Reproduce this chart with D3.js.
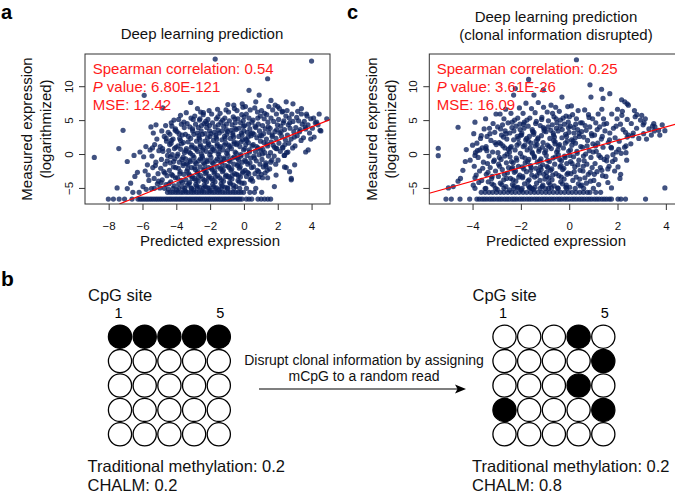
<!DOCTYPE html>
<html><head><meta charset="utf-8">
<script src="https://cdn.jsdelivr.net/npm/d3@7"></script>
<style>body{margin:0;background:#fff}svg{display:block;font-family:"Liberation Sans",Arial,Helvetica,sans-serif}</style>
</head><body><svg id="fig" width="675" height="494"></svg>
<script>
// ---------------- DATA ----------------
const yTicks = [-5, 0, 5, 10];
const xTicksA = [-8, -6, -4, -2, 0, 2, 4];
const xTicksC = [-4, -2, 0, 2, 4];
const floorLevels = [-6.644, -5.644, -5.059];

const statsA = ["Spearman correlation: 0.54", "6.80E-121", "12.42"];
const statsC = ["Spearman correlation: 0.25", "3.61E-26", "16.09"];

// panel a: edge / outlying points
const outerA = [[-8.85,-0.5],[-7.4,0.8],[-7.15,3.5],[-6.9,-1.1],[-6.5,-0.2],[-6.15,0.3],[-5.8,1.1],[-6.9,-5.1],[-6.7,-4.3],[-6.45,-3.3],[-6.3,-2.7],[-5.9,8.66],[-4.8,6.8],[-4.3,4.6],[-4.05,3.7],[-3.55,4.7],[-3.15,7.6],[-2.75,6.7],[-2.6,5.2],[-3.0,5.1],[-3.75,5.7],[-5.5,4.0],[-5.2,4.3],[-2.2,4.5],[-2.4,6.1],[-1.7,14.0],[4.0,13.7],[1.4,11.1],[0.3,9.4],[-0.95,7.3],[-0.6,7.2],[-0.1,7.4],[0.7,7.7],[0.9,8.7],[1.6,7.9],[2.5,7.7],[2.9,7.4],[3.4,6.7],[2.0,7.0],[2.3,6.3],[3.7,5.9],[4.45,5.9],[4.3,4.7],[4.9,5.2],[4.5,3.5],[4.15,2.5],[3.8,0.6],[3.0,-1.6],[2.7,-2.6],[2.4,-1.9],[1.9,-3.1],[1.25,-2.8],[1.8,-4.8],[2.8,-3.8],[4.55,3.4],[3.95,2.2],[3.65,0.3],[2.8,-3.6],[2.5,-2.0],[2.4,-0.2],[2.6,0.3],[2.3,0.9],[1.9,0.8],[1.1,-3.5],[1.4,-3.5],[1.3,-1.8],[-7.5,-5.0]];

// panel a: main cloud
const coreA = [
[-5.97,-4.8],[-5.62,-3.9],[-5.84,-2.5],[-5.71,-1.6],[-5.93,-0.4],[-5.55,0.6],[-5.78,-5.2],[-5.66,-3.1],
[-5.47,-5.1],[-5.12,-4.4],[-5.31,-3.6],[-5.08,-2.9],[-5.39,-2.0],[-5.21,-1.2],[-5.44,-0.3],[-5.03,0.5],[-5.28,1.4],[-5.15,2.2],[-5.36,3.1],[-5.05,-4.0],[-5.24,-1.7],[-5.41,0.9],
[-4.97,-5.0],[-4.61,-4.5],[-4.83,-3.8],[-4.55,-3.2],[-4.74,-2.6],[-4.92,-2.1],[-4.66,-1.5],[-4.88,-0.8],[-4.52,-0.2],[-4.79,0.4],[-4.95,1.1],[-4.58,1.9],[-4.71,2.6],[-4.86,3.4],[-4.63,4.2],[-4.9,-4.2],[-4.68,-2.8],[-4.54,-1.0],[-4.81,0.8],[-4.6,2.3],
[-4.47,-5.2],[-4.12,-4.7],[-4.33,-4.1],[-4.05,-3.5],[-4.28,-3.0],[-4.41,-2.4],[-4.17,-1.9],[-4.36,-1.3],[-4.09,-0.7],[-4.24,-0.1],[-4.45,0.5],[-4.02,1.0],[-4.31,1.6],[-4.19,2.2],[-4.38,2.9],[-4.07,3.5],[-4.26,4.1],[-4.14,5.0],[-4.43,-4.4],[-4.21,-3.2],[-4.04,-2.0],[-4.35,-0.4],[-4.11,0.8],[-4.29,2.0],[-4.48,3.2],[-4.16,-1.1],[-4.39,1.4],
[-3.98,-5.3],[-3.62,-4.9],[-3.85,-4.4],[-3.71,-3.9],[-3.93,-3.5],[-3.55,-3.0],[-3.77,-2.6],[-3.88,-2.1],[-3.6,-1.7],[-3.82,-1.2],[-3.67,-0.8],[-3.95,-0.3],[-3.52,0.2],[-3.74,0.7],[-3.9,1.2],[-3.58,1.7],[-3.8,2.3],[-3.65,2.8],[-3.96,3.3],[-3.53,3.9],[-3.7,4.4],[-3.86,5.1],[-3.63,-4.2],[-3.79,-2.9],[-3.57,-1.4],[-3.91,0.0],[-3.69,1.5],[-3.84,3.0],[-3.6,-0.5],[-3.75,2.0],
[-3.48,-5.4],[-3.12,-5.0],[-3.35,-4.6],[-3.21,-4.2],[-3.43,-3.8],[-3.05,-3.3],[-3.27,-2.9],[-3.38,-2.5],[-3.1,-2.0],[-3.32,-1.6],[-3.17,-1.1],[-3.45,-0.7],[-3.02,-0.2],[-3.24,0.3],[-3.4,0.8],[-3.08,1.3],[-3.3,1.8],[-3.15,2.3],[-3.46,2.9],[-3.03,3.4],[-3.2,4.0],[-3.36,4.5],[-3.13,5.3],[-3.41,6.1],[-3.26,-4.4],[-3.07,-3.6],[-3.33,-2.2],[-3.19,-0.9],[-3.44,0.5],[-3.11,1.0],[-3.29,2.6],[-3.04,3.7],[-3.39,-1.4],[-3.22,-3.1],[-3.16,0.1],
[-2.98,-5.3],[-2.62,-4.9],[-2.85,-4.5],[-2.71,-4.0],[-2.93,-3.6],[-2.55,-3.2],[-2.77,-2.8],[-2.88,-2.3],[-2.6,-1.9],[-2.82,-1.4],[-2.67,-1.0],[-2.95,-0.5],[-2.52,0.0],[-2.74,0.4],[-2.9,0.9],[-2.58,1.4],[-2.8,1.9],[-2.65,2.4],[-2.96,2.9],[-2.53,3.4],[-2.7,3.9],[-2.86,4.4],[-2.63,5.0],[-2.91,5.6],[-2.56,6.2],[-2.79,-4.7],[-2.68,-3.4],[-2.92,-2.0],[-2.57,-0.7],[-2.83,0.7],[-2.61,2.1],[-2.76,3.1],[-2.51,4.2],[-2.89,-1.2],[-2.72,-2.6],[-2.59,1.1],[-2.84,-3.9],[-2.66,2.7],
[-2.48,-5.4],[-2.12,-5.0],[-2.35,-4.6],[-2.21,-4.1],[-2.43,-3.7],[-2.05,-3.3],[-2.27,-2.9],[-2.38,-2.4],[-2.1,-2.0],[-2.32,-1.5],[-2.17,-1.1],[-2.45,-0.6],[-2.02,-0.1],[-2.24,0.4],[-2.4,0.9],[-2.08,1.4],[-2.3,1.9],[-2.15,2.4],[-2.46,2.9],[-2.03,3.4],[-2.2,3.9],[-2.36,4.5],[-2.13,5.1],[-2.41,5.8],[-2.06,6.4],[-2.28,-4.8],[-2.09,-3.5],[-2.34,-2.2],[-2.19,-0.9],[-2.44,0.6],[-2.11,1.7],[-2.29,3.0],[-2.04,4.2],[-2.39,-1.3],[-2.22,-2.7],[-2.16,1.1],[-2.33,-3.9],[-2.01,2.6],[-2.47,-0.3],[-2.26,4.8],
[-1.98,-5.4],[-1.62,-5.0],[-1.85,-4.5],[-1.71,-4.1],[-1.93,-3.6],[-1.55,-3.2],[-1.77,-2.8],[-1.88,-2.3],[-1.6,-1.9],[-1.82,-1.4],[-1.67,-1.0],[-1.95,-0.5],[-1.52,0.0],[-1.74,0.5],[-1.9,1.0],[-1.58,1.5],[-1.8,2.0],[-1.65,2.5],[-1.96,3.0],[-1.53,3.5],[-1.7,4.0],[-1.86,4.6],[-1.63,5.2],[-1.91,5.9],[-1.56,6.6],[-1.79,-4.8],[-1.68,-3.4],[-1.92,-2.1],[-1.57,-0.7],[-1.83,0.7],[-1.61,2.2],[-1.76,3.2],[-1.51,4.3],[-1.89,-1.2],[-1.72,-2.6],[-1.59,1.2],[-1.84,-3.9],[-1.66,2.8],[-1.97,0.3],[-1.54,5.5],
[-1.48,-5.3],[-1.12,-4.9],[-1.35,-4.4],[-1.21,-4.0],[-1.43,-3.5],[-1.05,-3.1],[-1.27,-2.6],[-1.38,-2.2],[-1.1,-1.7],[-1.32,-1.3],[-1.17,-0.8],[-1.45,-0.4],[-1.02,0.1],[-1.24,0.6],[-1.4,1.1],[-1.08,1.6],[-1.3,2.1],[-1.15,2.6],[-1.46,3.1],[-1.03,3.6],[-1.2,4.1],[-1.36,4.7],[-1.13,5.3],[-1.41,6.0],[-1.06,6.5],[-1.28,-4.7],[-1.09,-3.3],[-1.34,-2.0],[-1.19,-0.6],[-1.44,0.9],[-1.11,2.3],[-1.29,3.4],[-1.04,4.4],[-1.39,-1.1],[-1.22,-2.4],[-1.16,1.3],[-1.33,-3.8],[-1.01,2.9],[-1.47,0.3],[-1.26,5.0],
[-0.98,-5.0],[-0.62,-4.6],[-0.85,-4.2],[-0.71,-3.7],[-0.93,-3.3],[-0.55,-2.9],[-0.77,-2.4],[-0.88,-2.0],[-0.6,-1.5],[-0.82,-1.1],[-0.67,-0.6],[-0.95,-0.2],[-0.52,0.3],[-0.74,0.8],[-0.9,1.3],[-0.58,1.8],[-0.8,2.3],[-0.65,2.8],[-0.96,3.3],[-0.53,3.8],[-0.7,4.3],[-0.86,4.9],[-0.63,5.5],[-0.91,6.2],[-0.56,6.7],[-0.79,-4.4],[-0.68,-3.1],[-0.92,-1.8],[-0.57,-0.4],[-0.83,1.1],[-0.61,2.5],[-0.76,3.5],[-0.51,4.6],[-0.89,-0.9],[-0.72,-2.2],[-0.59,1.5],[-0.84,-3.5],[-0.66,3.1],[-0.97,0.5],[-0.54,5.2],
[-0.48,-4.8],[-0.12,-4.3],[-0.35,-3.9],[-0.21,-3.4],[-0.43,-3.0],[-0.05,-2.6],[-0.27,-2.1],[-0.38,-1.7],[-0.1,-1.2],[-0.32,-0.8],[-0.17,-0.3],[-0.45,0.1],[-0.02,0.6],[-0.24,1.1],[-0.4,1.6],[-0.08,2.1],[-0.3,2.6],[-0.15,3.1],[-0.46,3.6],[-0.03,4.1],[-0.2,4.6],[-0.36,5.2],[-0.13,5.8],[-0.41,6.4],[-0.06,6.9],[-0.28,-4.1],[-0.09,-2.8],[-0.34,-1.5],[-0.19,-0.1],[-0.44,1.4],[-0.11,2.8],[-0.29,3.8],[-0.04,4.9],[-0.39,-0.6],[-0.22,-1.9],[-0.16,1.8],[-0.33,-3.2],[-0.01,3.4],
[0.02,-4.3],[0.38,-3.8],[0.15,-3.3],[0.29,-2.9],[0.07,-2.4],[0.45,-2.0],[0.23,-1.5],[0.12,-1.1],[0.4,-0.6],[0.18,-0.2],[0.33,0.3],[0.05,0.8],[0.48,1.2],[0.26,1.7],[0.1,2.2],[0.42,2.7],[0.2,3.2],[0.35,3.7],[0.04,4.2],[0.47,4.7],[0.3,5.3],[0.14,5.9],[0.37,6.5],[0.09,7.0],[0.44,-3.6],[0.21,-2.7],[0.06,-0.9],[0.32,0.6],[0.16,2.0],[0.41,3.0],[0.27,4.4],[0.01,5.5],[0.36,-1.3],[0.11,1.4],[0.25,2.5],
[0.52,-4.0],[0.88,-3.4],[0.65,-2.9],[0.79,-2.4],[0.57,-1.9],[0.95,-1.5],[0.73,-1.0],[0.62,-0.6],[0.9,-0.1],[0.68,0.4],[0.83,0.9],[0.55,1.4],[0.98,1.9],[0.76,2.4],[0.6,2.9],[0.92,3.4],[0.7,3.9],[0.85,4.4],[0.54,5.0],[0.97,5.6],[0.8,6.2],[0.64,6.8],[0.87,-2.6],[0.59,-0.3],[0.74,1.1],[0.94,2.7],[0.66,4.1],[0.82,5.3],[0.51,3.1],[0.99,0.6],
[1.02,-3.0],[1.38,-2.4],[1.15,-1.9],[1.29,-1.3],[1.07,-0.8],[1.45,-0.3],[1.23,0.2],[1.12,0.7],[1.4,1.2],[1.18,1.7],[1.33,2.2],[1.05,2.7],[1.48,3.2],[1.26,3.7],[1.1,4.2],[1.42,4.7],[1.2,5.2],[1.35,5.8],[1.04,6.4],[1.47,7.0],[1.3,-1.6],[1.09,0.0],[1.37,1.5],[1.16,3.0],[1.44,4.0],[1.22,6.0],
[1.52,-2.2],[1.88,-1.5],[1.65,-0.9],[1.79,-0.3],[1.57,0.2],[1.95,0.8],[1.73,1.3],[1.62,1.8],[1.9,2.3],[1.68,2.8],[1.83,3.3],[1.55,3.8],[1.98,4.3],[1.76,4.8],[1.6,5.3],[1.92,5.9],[1.7,6.5],[1.85,7.2],[1.58,-1.2],[1.81,1.0],[1.67,2.6],[1.94,3.6],
[2.02,-0.9],[2.38,-0.2],[2.15,0.4],[2.29,1.0],[2.07,1.6],[2.45,2.1],[2.23,2.6],[2.12,3.1],[2.4,3.6],[2.18,4.1],[2.33,4.6],[2.05,5.1],[2.48,5.6],[2.26,6.2],[2.1,6.7],[2.42,1.4],[2.2,3.3],[2.36,4.9],
[2.52,0.2],[2.88,0.9],[2.65,1.6],[2.79,2.2],[2.57,2.8],[2.95,3.3],[2.73,3.8],[2.62,4.3],[2.9,4.8],[2.68,5.3],[2.83,5.9],[2.55,6.4],[2.98,2.5],[2.71,4.6],
[3.02,1.2],[3.38,2.0],[3.15,2.7],[3.29,3.3],[3.07,3.9],[3.45,4.4],[3.23,4.9],[3.12,5.4],[3.4,5.9],[3.18,6.3],[3.33,3.6],
[3.52,2.4],[3.88,3.1],[3.65,3.7],[3.79,4.3],[3.57,4.8],[3.95,5.2],[3.73,5.6],[3.62,4.0],
[4.05,3.8],[4.22,4.6],[4.38,4.3],[4.12,5.3]];

// panel a: x positions of the points on the lowest measured levels
const floorAx = [-8.02,-7.72,-7.38,-7.06,-6.62,-6.27,-6.15,-6.04,-5.92,-5.8,-5.69,-5.57,-5.46,-5.34,-5.22,-5.11,-4.99,-4.88,-4.76,-4.64,-4.53,-4.41,-4.3,-4.18,-4.06,-3.95,-3.83,-3.72,-3.6,-3.48,-3.37,-3.25,-3.14,-3.02,-2.9,-2.79,-2.67,-2.56,-2.44,-2.32,-2.21,-2.09,-1.98,-1.86,-1.74,-1.63,-1.51,-1.4,-1.28,-1.16,-1.05,-0.93,-0.82,-0.7,-0.58,-0.47,-0.35,-0.24,-0.12,0.14,0.3,0.46,0.83,1.02,1.22,1.41,1.58];
const band2Ax = [-6.57,-6.2,-4.52,-4.36,-4.21,-4.05,-3.9,-3.74,-3.6,-3.43,-3.28,-3.12,-2.97,-2.81,-2.66,-2.5,-2.35,-2.19,-2.04,-1.88,-1.73,-1.57,-1.42,-1.26,-1.11,-0.95,-0.8,-0.64,-0.49,-0.33,-0.18,-0.02,0.35,0.62,1.05];
const band3Ax = [-5.3,-4.7,-4.2,-3.85,-3.5,-3.1,-2.75,-2.4,-2.05,-1.7,-1.35,-0.95,-0.6,-0.25,0.15,0.7];

// panel c: edge / outlying points
const outerC = [[-5.42,0.85],[-5.42,-0.25],[-4.6,3.95],[0.3,13.9],[-1.68,11.0],[0.86,10.2],[1.34,9.55],[1.68,8.9],[-1.07,9.45],[-2.23,9.65],[-2.3,8.7],[-1.46,8.7],[0.9,8.4],[1.4,8.2],[-0.3,8.4],[-0.75,7.2],[3.5,4.5],[3.1,4.6],[2.3,7.7],[2.45,7.2],[2.7,6.4],[3.0,5.7],[2.2,6.3],[-5.0,-5.0],[-4.8,-4.8],[-4.6,-4.0],[-4.5,-3.6],[-4.4,-2.4],[-4.3,-1.1],[-4.26,0.65],[-4.0,1.3],[-3.9,-0.2],[-4.1,-0.9],[-3.7,0.6],[-3.9,4.7],[3.96,-5.0],[3.96,3.45],[2.4,2.5],[2.35,1.2],[2.35,0.2],[1.9,-0.8],[2.13,-3.0],[2.1,-3.6],[1.75,-5.0],[1.6,-4.2],[1.35,-2.4],[1.75,0.9],[1.55,-1.0],[2.17,8.0],[2.4,7.4],[2.0,6.6],[2.8,5.8],[3.15,5.2],[3.06,4.3],[3.4,2.8],[3.75,2.8],[3.55,4.0]];

// panel c: main cloud
const coreC = [
[-3.97,-4.6],[-3.62,-3.9],[-3.85,-3.1],[-3.71,-2.5],[-3.93,-1.8],[-3.55,-1.2],[-3.77,-0.5],[-3.88,0.2],[-3.6,0.9],[-3.82,1.6],[-3.67,2.3],[-3.95,3.0],[-3.52,3.7],[-3.74,-4.2],[-3.58,-2.1],[-3.8,0.5],[-3.64,2.7],[-3.9,-3.5],
[-3.48,-5.1],[-3.12,-4.6],[-3.35,-4.1],[-3.21,-3.6],[-3.43,-3.0],[-3.05,-2.5],[-3.27,-2.0],[-3.38,-1.4],[-3.1,-0.9],[-3.32,-0.3],[-3.17,0.3],[-3.45,0.8],[-3.02,1.4],[-3.24,2.0],[-3.4,2.6],[-3.08,3.2],[-3.3,3.8],[-3.15,4.5],[-3.46,5.2],[-3.03,5.9],[-3.2,-4.4],[-3.36,-2.7],[-3.13,-1.1],[-3.41,0.5],[-3.07,1.7],[-3.28,3.0],[-3.19,-3.3],[-3.44,1.1],
[-2.98,-5.2],[-2.62,-4.8],[-2.85,-4.3],[-2.71,-3.8],[-2.93,-3.3],[-2.55,-2.8],[-2.77,-2.3],[-2.88,-1.8],[-2.6,-1.3],[-2.82,-0.8],[-2.67,-0.3],[-2.95,0.2],[-2.52,0.7],[-2.74,1.2],[-2.9,1.7],[-2.58,2.2],[-2.8,2.8],[-2.65,3.4],[-2.96,4.0],[-2.53,4.6],[-2.7,5.2],[-2.86,5.9],[-2.63,6.6],[-2.79,-4.5],[-2.68,-3.0],[-2.92,-1.5],[-2.57,0.0],[-2.83,1.5],[-2.61,3.0],[-2.76,4.3],[-2.51,-2.0],[-2.89,-0.5],[-2.72,2.5],[-2.59,-3.6],[-2.84,3.7],[-2.66,0.9],
[-2.48,-5.3],[-2.12,-4.9],[-2.35,-4.5],[-2.21,-4.0],[-2.43,-3.6],[-2.05,-3.1],[-2.27,-2.7],[-2.38,-2.2],[-2.1,-1.8],[-2.32,-1.3],[-2.17,-0.9],[-2.45,-0.4],[-2.02,0.1],[-2.24,0.6],[-2.4,1.1],[-2.08,1.6],[-2.3,2.1],[-2.15,2.6],[-2.46,3.1],[-2.03,3.6],[-2.2,4.1],[-2.36,4.7],[-2.13,5.3],[-2.41,6.0],[-2.06,6.8],[-2.28,-4.7],[-2.09,-3.4],[-2.34,-2.0],[-2.19,-0.6],[-2.44,0.9],[-2.11,2.3],[-2.29,3.4],[-2.04,4.4],[-2.39,-1.1],[-2.22,-2.5],[-2.16,1.3],[-2.33,-3.8],[-2.01,2.8],[-2.47,0.3],[-2.26,5.0],[-2.14,-5.0],[-2.37,3.9],
[-1.98,-5.3],[-1.62,-4.9],[-1.85,-4.4],[-1.71,-4.0],[-1.93,-3.5],[-1.55,-3.1],[-1.77,-2.6],[-1.88,-2.2],[-1.6,-1.7],[-1.82,-1.3],[-1.67,-0.8],[-1.95,-0.4],[-1.52,0.1],[-1.74,0.6],[-1.9,1.1],[-1.58,1.6],[-1.8,2.1],[-1.65,2.6],[-1.96,3.1],[-1.53,3.6],[-1.7,4.1],[-1.86,4.7],[-1.63,5.3],[-1.91,6.0],[-1.56,6.7],[-1.79,7.5],[-1.68,-4.7],[-1.92,-3.3],[-1.57,-2.0],[-1.83,-0.6],[-1.61,0.9],[-1.76,2.3],[-1.51,3.3],[-1.89,4.4],[-1.72,-1.1],[-1.59,-2.4],[-1.84,1.3],[-1.66,-3.8],[-1.97,2.8],[-1.54,0.3],[-1.75,5.0],[-1.64,-5.0],[-1.87,3.8],[-1.69,1.9],[-1.94,-1.9],
[-1.48,-5.2],[-1.12,-4.8],[-1.35,-4.3],[-1.21,-3.9],[-1.43,-3.4],[-1.05,-3.0],[-1.27,-2.5],[-1.38,-2.1],[-1.1,-1.6],[-1.32,-1.2],[-1.17,-0.7],[-1.45,-0.3],[-1.02,0.2],[-1.24,0.7],[-1.4,1.2],[-1.08,1.7],[-1.3,2.2],[-1.15,2.7],[-1.46,3.2],[-1.03,3.7],[-1.2,4.2],[-1.36,4.8],[-1.13,5.4],[-1.41,6.1],[-1.06,6.9],[-1.28,7.6],[-1.09,-4.6],[-1.34,-3.2],[-1.19,-1.9],[-1.44,-0.5],[-1.11,1.0],[-1.29,2.4],[-1.04,3.4],[-1.39,4.5],[-1.22,-1.0],[-1.16,-2.3],[-1.33,1.4],[-1.01,-3.7],[-1.47,2.9],[-1.26,0.4],[-1.14,5.1],[-1.42,-4.9],[-1.07,3.9],[-1.37,1.9],[-1.23,-2.8],
[-0.98,-5.1],[-0.62,-4.7],[-0.85,-4.2],[-0.71,-3.8],[-0.93,-3.3],[-0.55,-2.9],[-0.77,-2.4],[-0.88,-2.0],[-0.6,-1.5],[-0.82,-1.1],[-0.67,-0.6],[-0.95,-0.2],[-0.52,0.3],[-0.74,0.8],[-0.9,1.3],[-0.58,1.8],[-0.8,2.3],[-0.65,2.8],[-0.96,3.3],[-0.53,3.8],[-0.7,4.3],[-0.86,4.9],[-0.63,5.5],[-0.91,6.2],[-0.56,6.9],[-0.79,-4.5],[-0.68,-3.1],[-0.92,-1.8],[-0.57,-0.4],[-0.83,1.1],[-0.61,2.5],[-0.76,3.5],[-0.51,4.6],[-0.89,-0.9],[-0.72,-2.2],[-0.59,1.5],[-0.84,-3.5],[-0.66,3.1],[-0.97,0.5],[-0.54,5.2],[-0.73,-5.0],[-0.87,4.0],[-0.64,2.0],[-0.94,-2.7],[-0.69,6.0],
[-0.48,-5.0],[-0.12,-4.6],[-0.35,-4.1],[-0.21,-3.7],[-0.43,-3.2],[-0.05,-2.8],[-0.27,-2.3],[-0.38,-1.9],[-0.1,-1.4],[-0.32,-1.0],[-0.17,-0.5],[-0.45,-0.1],[-0.02,0.4],[-0.24,0.9],[-0.4,1.4],[-0.08,1.9],[-0.3,2.4],[-0.15,2.9],[-0.46,3.4],[-0.03,3.9],[-0.2,4.4],[-0.36,5.0],[-0.13,5.6],[-0.41,6.3],[-0.06,7.0],[-0.28,-4.4],[-0.09,-3.0],[-0.34,-1.7],[-0.19,-0.3],[-0.44,1.2],[-0.11,2.6],[-0.29,3.6],[-0.04,4.7],[-0.39,-0.8],[-0.22,-2.1],[-0.16,1.6],[-0.33,-3.4],[-0.01,3.2],[-0.47,0.6],[-0.25,5.3],[-0.14,-4.9],[-0.37,4.1],
[0.02,-4.9],[0.38,-4.4],[0.15,-3.9],[0.29,-3.4],[0.07,-2.9],[0.45,-2.4],[0.23,-1.9],[0.12,-1.4],[0.4,-0.9],[0.18,-0.4],[0.33,0.1],[0.05,0.6],[0.48,1.1],[0.26,1.6],[0.1,2.1],[0.42,2.6],[0.2,3.1],[0.35,3.6],[0.04,4.1],[0.47,4.6],[0.3,5.2],[0.14,5.8],[0.37,6.4],[0.09,7.1],[0.44,-3.7],[0.21,-2.6],[0.06,-1.1],[0.32,0.4],[0.16,1.9],[0.41,3.0],[0.27,4.4],[0.01,5.5],[0.36,-1.6],[0.11,1.3],[0.25,2.4],[0.46,-4.7],[0.19,3.9],[0.03,-0.2],
[0.52,-4.6],[0.88,-4.0],[0.65,-3.5],[0.79,-3.0],[0.57,-2.5],[0.95,-2.0],[0.73,-1.5],[0.62,-1.0],[0.9,-0.5],[0.68,0.0],[0.83,0.5],[0.55,1.0],[0.98,1.5],[0.76,2.0],[0.6,2.5],[0.92,3.0],[0.7,3.5],[0.85,4.0],[0.54,4.6],[0.97,5.2],[0.8,5.8],[0.64,6.5],[0.87,-2.7],[0.59,-0.3],[0.74,1.2],[0.94,2.7],[0.66,4.2],[0.82,5.4],[0.51,3.3],[0.99,0.3],[0.71,-4.3],[0.58,-1.8],
[1.02,-3.9],[1.38,-3.2],[1.15,-2.6],[1.29,-2.0],[1.07,-1.4],[1.45,-0.8],[1.23,-0.2],[1.12,0.4],[1.4,1.0],[1.18,1.6],[1.33,2.2],[1.05,2.8],[1.48,3.4],[1.26,4.0],[1.1,4.6],[1.42,5.2],[1.2,5.9],[1.35,6.6],[1.04,-3.0],[1.3,-0.5],[1.09,1.2],[1.37,2.6],[1.16,3.6],[1.44,4.4],[1.22,-4.5],
[1.52,-3.3],[1.88,-2.5],[1.65,-1.8],[1.79,-1.1],[1.57,-0.4],[1.95,0.3],[1.73,1.0],[1.62,1.7],[1.9,2.4],[1.68,3.1],[1.83,3.8],[1.55,4.5],[1.98,5.2],[1.76,5.9],[1.6,-2.2],[1.81,-0.1],[1.67,2.1],[1.94,4.1],
[2.02,-1.9],[2.38,-0.9],[2.15,0.1],[2.29,1.0],[2.07,1.9],[2.45,2.8],[2.23,3.6],[2.12,4.4],[2.4,5.1],[2.18,5.7],[2.33,3.2],[2.05,0.7],
[2.55,1.5],[2.88,2.3],[2.65,3.1],[2.79,3.8],[2.57,4.5],[2.95,5.0],[2.73,5.5],[2.62,2.7],
[3.08,3.0],[3.3,3.7],[3.45,4.1],[3.2,2.2],[3.52,3.4],[3.7,3.5],[3.85,4.3]];

const floorCx = [-5.1,-4.88,-4.52,-4.12,-3.82,-3.72,-3.61,-3.51,-3.41,-3.3,-3.2,-3.1,-2.99,-2.89,-2.79,-2.68,-2.58,-2.48,-2.37,-2.27,-2.17,-2.06,-1.96,-1.86,-1.75,-1.65,-1.55,-1.44,-1.34,-1.24,-1.13,-1.03,-0.93,-0.82,-0.72,-0.62,-0.51,-0.41,-0.31,-0.2,-0.1,0.0,0.11,0.21,0.31,0.42,0.52,0.62,0.73,0.83,0.93,1.04,1.14,1.24,1.35,1.45,1.55,1.66,1.75,2.02,2.14,2.33,3.16];
const band2Cx = [-3.64,-3.48,-3.32,-3.17,-3.01,-2.85,-2.7,-2.54,-2.38,-2.23,-2.07,-1.91,-1.76,-1.6,-1.44,-1.29,-1.13,-0.97,-0.82,-0.66,-0.5,-0.35,-0.19,-0.03,0.12,0.28,0.44,0.59,0.75,0.86,1.1,1.3];
const band3Cx = [-3.9,-3.45,-3.05,-2.7,-2.3,-1.95,-1.55,-1.2,-0.85,-0.45,-0.1,0.25,0.6,1.0];

// panel b: methylation state of 5 reads x 5 CpG sites
const gridBefore = [[1,1,1,1,1],[0,0,0,0,0],[0,0,0,0,0],[0,0,0,0,0],[0,0,0,0,0]];
const gridAfter  = [[0,0,0,1,0],[0,0,0,0,1],[0,0,0,1,0],[1,0,0,0,1],[0,0,0,0,0]];
const summaryBefore = ["Traditional methylation: 0.2", "CHALM: 0.2"];
const summaryAfter  = ["Traditional methylation: 0.2", "CHALM: 0.8"];
const arrowText = ["Disrupt clonal information by assigning", "mCpG to a random read"];

// ---------------- DRAWING ----------------
const svg = d3.select("#fig");
const FONT = '"Liberation Sans", Arial, Helvetica, sans-serif';
const yDomain = [-7.37, 14.75];
const boxTop = 54, boxBottom = 204;
const fmt = d => d < 0 ? "\u2212" + Math.abs(d) : String(d);

function drawPanel(p) {
  const x = d3.scaleLinear().domain(p.xDomain).range([p.left, p.right]);
  const y = d3.scaleLinear().domain(yDomain).range([boxBottom, boxTop]);
  const g = svg.append("g");
  g.append("clipPath").attr("id", "clip" + p.id).append("rect")
    .attr("x", p.left).attr("y", boxTop).attr("width", p.right - p.left).attr("height", boxBottom - boxTop);
  const plot = g.append("g").attr("clip-path", `url(#clip${p.id})`);
  const all = p.scatter
    .concat(p.floor.map(v => [v, floorLevels[0]]))
    .concat(p.band2.map(v => [v, floorLevels[1]]))
    .concat(p.band3.map(v => [v, floorLevels[2]]));
  plot.selectAll("circle").data(all).join("circle")
    .attr("cx", d => x(d[0])).attr("cy", d => y(d[1])).attr("r", 2.6)
    .attr("fill", "#0b215e").attr("fill-opacity", 0.78);
  const lo = Math.max(p.xDomain[0], yDomain[0]), hi = Math.min(p.xDomain[1], yDomain[1]);
  plot.append("line").attr("x1", x(lo)).attr("y1", y(lo)).attr("x2", x(hi)).attr("y2", y(hi))
    .attr("stroke", "#ff0000").attr("stroke-width", 1.2);

  g.append("rect").attr("x", p.left).attr("y", boxTop).attr("width", p.right - p.left)
    .attr("height", boxBottom - boxTop).attr("fill", "none").attr("stroke", "#333").attr("stroke-width", 1);

  const xa = g.append("g").attr("transform", `translate(0,${boxBottom})`)
    .call(d3.axisBottom(x).tickValues(p.xTicks).tickSize(6).tickFormat(fmt));
  xa.select(".domain").remove();
  xa.selectAll("line").attr("stroke", "#333");
  xa.selectAll("text").attr("y", 26).attr("dy", 0).attr("font-size", 11.5).attr("font-family", FONT).attr("fill", "#111");

  const ya = g.append("g").attr("transform", `translate(${p.left},0)`)
    .call(d3.axisLeft(y).tickValues(yTicks).tickSize(6).tickFormat(fmt));
  ya.select(".domain").remove();
  ya.selectAll("line").attr("stroke", "#333");
  ya.selectAll("text").attr("x", 0).attr("y", 0).attr("dy", 0).attr("text-anchor", "middle")
    .attr("transform", `translate(${p.tickLabelX - p.left},0) rotate(-90)`)
    .attr("font-size", 11.5).attr("font-family", FONT).attr("fill", "#111");

  const t = (xx, yy, s, size, anchor) => g.append("text").attr("x", xx).attr("y", yy).text(s)
    .attr("font-size", size).attr("text-anchor", anchor || "middle").attr("fill", "#111");
  p.title.forEach((s, i) => t(p.titleX, p.titleY[i], s, 15));
  t(p.xLabelX, 245.5, "Predicted expression", 15);
  const cy = (boxTop + boxBottom) / 2;
  g.append("text").attr("transform", `translate(${p.yLabelX[0]},${cy}) rotate(-90)`)
    .attr("text-anchor", "middle").attr("font-size", 15).attr("fill", "#111").text("Measured expression");
  g.append("text").attr("transform", `translate(${p.yLabelX[1]},${cy}) rotate(-90)`)
    .attr("text-anchor", "middle").attr("font-size", 15).attr("fill", "#111").text("(logarithmized)");

  const red = "#ff1a1a";
  const sx = p.statX;
  g.append("text").attr("x", sx).attr("y", 74).attr("font-size", 15).attr("fill", red).text(p.stats[0]);
  const pv = g.append("text").attr("x", sx).attr("y", 91.8).attr("font-size", 15).attr("fill", red);
  pv.append("tspan").attr("font-style", "italic").text("P");
  pv.append("tspan").text(" value: " + p.stats[1]);
  g.append("text").attr("x", sx).attr("y", 109.5).attr("font-size", 15).attr("fill", red).text("MSE: " + p.stats[2]);

  svg.append("text").attr("x", p.letterX).attr("y", 19).attr("font-size", 20).attr("font-weight", "bold").text(p.letter);
}

drawPanel({ id: "a", letter: "a", letterX: 1, left: 85, right: 330, xDomain: [-9.4, 5.09], xTicks: xTicksA,
  scatter: outerA.concat(coreA), floor: floorAx, band2: band2Ax, band3: band3Ax,
  title: ["Deep learning prediction"], titleX: 202, titleY: [39], xLabelX: 210,
  yLabelX: [32.4, 51], tickLabelX: 73.3, statX: 92.7, stats: statsA });

drawPanel({ id: "c", letter: "c", letterX: 347, left: 429.3, right: 683, xDomain: [-5.79, 4.71], xTicks: xTicksC,
  scatter: outerC.concat(coreC), floor: floorCx, band2: band2Cx, band3: band3Cx,
  title: ["Deep learning prediction", "(clonal information disrupted)"], titleX: 556, titleY: [22.4, 40.3], xLabelX: 556,
  yLabelX: [377.4, 396], tickLabelX: 416.6, statX: 436.7, stats: statsC });

// panel b
svg.append("text").attr("x", 1).attr("y", 286).attr("font-size", 21).attr("font-weight", "bold").text("b");

function drawGrid(grid, x0, summary) {
  const g = svg.append("g");
  const cols = d3.scalePoint().domain(d3.range(5)).range([x0, x0 + 98.8]);
  const rows = d3.scalePoint().domain(d3.range(5)).range([336.7, 434.3]);
  const cells = grid.flatMap((row, r) => row.map((v, c) => ({ r, c, v })));
  g.selectAll("circle").data(cells).join("circle")
    .attr("cx", d => cols(d.c)).attr("cy", d => rows(d.r)).attr("r", 11.6)
    .attr("fill", d => d.v ? "#000" : "#fff").attr("stroke", "#000").attr("stroke-width", 1.3);
  g.append("text").attr("x", x0 - 32).attr("y", 301).attr("font-size", 16.5).attr("fill", "#111").text("CpG site");
  g.append("text").attr("x", cols(0) - 1.5).attr("y", 318).attr("font-size", 14.5).attr("text-anchor", "middle").text("1");
  g.append("text").attr("x", cols(4) + 1.5).attr("y", 318).attr("font-size", 14.5).attr("text-anchor", "middle").text("5");
  summary.forEach((s, i) => g.append("text").attr("x", x0 - 32.5).attr("y", 472 + i * 19)
    .attr("font-size", 16.5).attr("fill", "#111").text(s));
}
drawGrid(gridBefore, 120, summaryBefore);
drawGrid(gridAfter, 504.5, summaryAfter);

arrowText.forEach((s, i) => svg.append("text").attr("x", 364).attr("y", 365 + i * 15.5)
  .attr("text-anchor", "middle").attr("font-size", 14).attr("fill", "#111").text(s));
svg.append("line").attr("x1", 259).attr("y1", 389).attr("x2", 458).attr("y2", 389).attr("stroke", "#000").attr("stroke-width", 1.2);
svg.append("path").attr("d", "M466,389 L455,384.5 L457.5,389 L455,393.5 Z").attr("fill", "#000");
</script></body></html>
